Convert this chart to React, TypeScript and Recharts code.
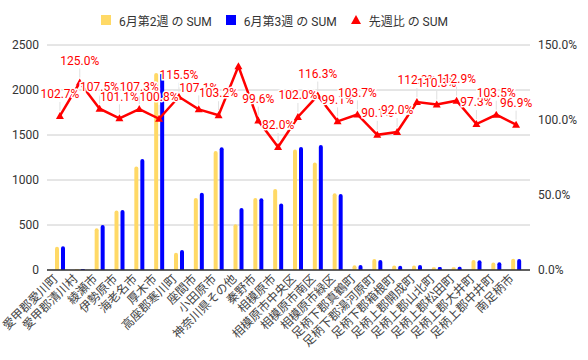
import React from 'react';
import {
  ComposedChart,
  Bar,
  Line,
  XAxis,
  YAxis,
  CartesianGrid,
  Legend,
  LabelList,
} from 'recharts';

const categories = [
  '愛甲郡愛川町', '愛甲郡清川村', '綾瀬市', '伊勢原市', '海老名市', '厚木市',
  '高座郡寒川町', '座間市', '小田原市', '神奈川県その他', '秦野市', '相模原市',
  '相模原市中央区', '相模原市南区', '相模原市緑区', '足柄下郡真鶴町', '足柄下郡湯河原町',
  '足柄下郡箱根町', '足柄上郡開成町', '足柄上郡山北町', '足柄上郡松田町',
  '足柄上郡大井町', '足柄上郡中井町', '南足柄市',
];

const week2 = [
  257, 8, 465, 660, 1150, 2190, 192, 800, 1322, 508, 800, 900,
  1340, 1195, 852, 54, 122, 50, 50, 30, 31, 112, 82, 126,
];

const week3 = [
  264, 10, 500, 667, 1234, 2208, 222, 857, 1364, 690, 797, 738,
  1367, 1390, 844, 56, 110, 46, 56, 33, 35, 109, 85, 122,
];

const ratio = [
  102.7, 125.0, 107.5, 101.1, 107.3, 100.8, 115.5, 107.1, 103.2, 135.8, 99.6, 82.0,
  102.0, 116.3, 99.1, 103.7, 90.1, 92.0, 112.0, 110.3, 112.9, 97.3, 103.5, 96.9,
];

const hiddenLabels = ['神奈川県その他'];

const leftTicks = [0, 500, 1000, 1500, 2000, 2500];
const rightTicks = [0, 50, 100, 150];

const seriesNames = ['6月第2週 の SUM', '6月第3週 の SUM', '先週比 の SUM'];

const data = categories.map((name, i) => ({
  name,
  w2: week2[i],
  w3: week3[i],
  r: ratio[i],
}));

const FONT = "Roboto, Arial, 'Noto Sans CJK JP', sans-serif";

const XTick = (props: any) => {
  const { x, y, payload } = props;
  return (
    <g transform={`translate(${x},${y})`}>
      <text
        transform="rotate(-45)"
        x={-2}
        y={-4}
        dy="0.35em"
        textAnchor="end"
        fontSize={12}
        fill="#444"
        fontFamily={FONT}
      >
        {payload.value}
      </text>
    </g>
  );
};

const TriangleDot = (props: any) => {
  const { cx, cy } = props;
  if (cx == null || cy == null) return null;
  return (
    <polygon
      points={`${cx},${cy - 4} ${cx - 4},${cy + 3} ${cx + 4},${cy + 3}`}
      fill="#ff0000"
    />
  );
};

const RatioLabel = (props: any) => {
  const { x, y, value, index } = props;
  if (hiddenLabels.includes(categories[index])) return null;
  return (
    <g>
      <line x1={x} x2={x} y1={y - 14} y2={y - 5} stroke="#e0e0e0" strokeWidth={1} />
      <text
        x={x}
        y={y - 22}
        dy="0.35em"
        textAnchor="middle"
        fontSize={12}
        fill="#ff0000"
        fontFamily={FONT}
        stroke="#ffffff"
        strokeWidth={3}
        paintOrder="stroke"
      >
        {`${Number(value).toFixed(1)}%`}
      </text>
    </g>
  );
};

const LegendContent = () => {
  const items = [
    { name: seriesNames[0], color: '#ffd966', shape: 'square' },
    { name: seriesNames[1], color: '#0000ff', shape: 'square' },
    { name: seriesNames[2], color: '#ff0000', shape: 'triangle' },
  ];
  return (
    <div
      style={{
        height: 37,
        display: 'flex',
        alignItems: 'flex-start',
        paddingLeft: 101,
        fontFamily: FONT,
        fontSize: 12,
        color: '#333',
      }}
    >
      {items.map((it, i) => (
        <div
          key={i}
          style={{ display: 'flex', alignItems: 'center', height: 24, marginRight: 14 }}
        >
          <svg width={10} height={10} style={{ marginRight: 8 }}>
            {it.shape === 'square' ? (
              <rect x={0} y={0} width={10} height={10} fill={it.color} />
            ) : (
              <polygon points="5,0 0,9 10,9" fill={it.color} />
            )}
          </svg>
          <span>{it.name}</span>
        </div>
      ))}
    </div>
  );
};

export default function App() {
  return (
    <div style={{ position: 'absolute', left: 0, top: 0 }}>
      <ComposedChart
        width={588}
        height={360}
        data={data}
        margin={{ top: 8, right: 0, left: 0, bottom: 0 }}
        barSize={4}
        barGap={2}
      >
        <Legend verticalAlign="top" align="left" content={<LegendContent />} />
        <CartesianGrid yAxisId="left" vertical={false} stroke="#cccccc" />
        <XAxis
          dataKey="name"
          interval={0}
          height={90}
          tick={<XTick />}
          tickLine={false}
          axisLine={{ stroke: '#333', strokeWidth: 1.5 }}
          padding={{ left: 3, right: 4 }}
        />
        <YAxis
          yAxisId="left"
          width={47}
          domain={[0, 2500]}
          ticks={leftTicks}
          axisLine={false}
          tickLine={false}
          tick={{ fontSize: 12, fill: '#333', fontFamily: FONT }}
        />
        <YAxis
          yAxisId="right"
          orientation="right"
          width={58}
          domain={[0, 150]}
          ticks={rightTicks}
          axisLine={false}
          tickLine={false}
          tickFormatter={(v: number) => `${v.toFixed(1)}%`}
          tick={{ fontSize: 12, fill: '#333', fontFamily: FONT, textAnchor: 'start' }}
        />
        <Bar
          yAxisId="left"
          dataKey="w2"
          name={seriesNames[0]}
          fill="#ffd966"
          radius={[2, 2, 0, 0]}
          isAnimationActive={false}
        />
        <Bar
          yAxisId="left"
          dataKey="w3"
          name={seriesNames[1]}
          fill="#0000ff"
          radius={[2, 2, 0, 0]}
          isAnimationActive={false}
        />
        <Line
          yAxisId="right"
          dataKey="r"
          name={seriesNames[2]}
          stroke="#ff0000"
          strokeWidth={2.5}
          dot={<TriangleDot />}
          activeDot={false}
          isAnimationActive={false}
        >
          <LabelList dataKey="r" content={<RatioLabel />} />
        </Line>
      </ComposedChart>
    </div>
  );
}
